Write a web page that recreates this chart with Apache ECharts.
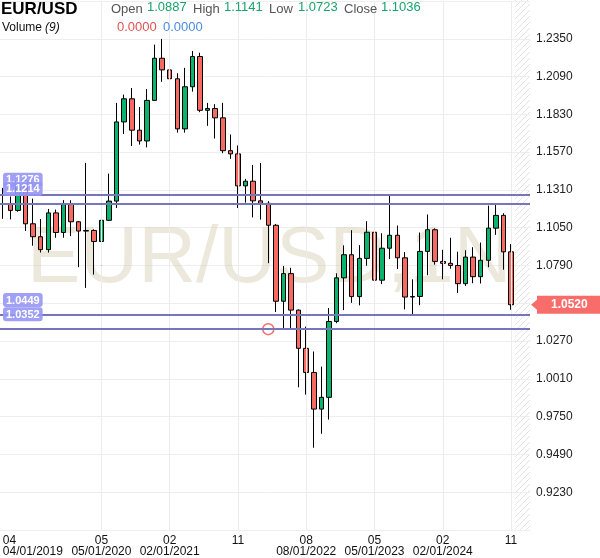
<!DOCTYPE html>
<html><head><meta charset="utf-8">
<script src="https://cdn.jsdelivr.net/npm/echarts@6/dist/echarts.min.js"></script>
<style>html,body{margin:0;padding:0;background:#fff}#c{width:600px;height:558px}</style>
</head><body><div id="c"></div>
<script>
// ---- data ----
const months = ['2019-04','2019-05','2019-06','2019-07','2019-08','2019-09','2019-10','2019-11','2019-12',
'2020-01','2020-02','2020-03','2020-04','2020-05','2020-06','2020-07','2020-08','2020-09','2020-10','2020-11','2020-12',
'2021-01','2021-02','2021-03','2021-04','2021-05','2021-06','2021-07','2021-08','2021-09','2021-10','2021-11','2021-12',
'2022-01','2022-02','2022-03','2022-04','2022-05','2022-06','2022-07','2022-08','2022-09','2022-10','2022-11','2022-12',
'2023-01','2023-02','2023-03','2023-04','2023-05','2023-06','2023-07','2023-08','2023-09','2023-10','2023-11','2023-12',
'2024-01','2024-02','2024-03','2024-04','2024-05','2024-06','2024-07','2024-08','2024-09','2024-10','2024-11'];
const opens = [1.1216,1.1214,1.1169,1.1370,1.1077,1.0988,1.0899,1.1152,1.1017,
1.1213,1.1091,1.1027,1.1031,1.0955,1.1101,1.1233,1.1778,1.1937,1.1721,1.1647,1.1926,
1.2216,1.2136,1.2075,1.1730,1.2020,1.2228,1.1858,1.1870,1.1806,1.1580,1.1558,1.1338,
1.1370,1.1235,1.1218,1.1067,1.0544,1.0734,1.0483,1.0220,1.0054,0.9802,0.9883,1.0405,
1.0705,1.0864,1.0576,1.0839,1.1019,1.0689,1.0909,1.0998,1.0843,1.0573,1.0577,1.0887,
1.1036,1.0818,1.0805,1.0790,1.0665,1.0848,1.0713,1.0826,1.1047,1.1135,1.0884];
const highs = [1.1324,1.1265,1.1412,1.1380,1.1250,1.1110,1.1179,1.1175,1.1240,
1.1239,1.1096,1.1496,1.1039,1.1147,1.1422,1.1909,1.1966,1.2011,1.1881,1.2004,1.2310,
1.2349,1.2243,1.2113,1.2150,1.2266,1.2254,1.1909,1.1900,1.1909,1.1692,1.1616,1.1386,
1.1482,1.1495,1.1233,1.1076,1.0787,1.0774,1.0487,1.0369,1.0198,1.0094,1.0497,1.0736,
1.0929,1.1033,1.0930,1.1095,1.1092,1.1012,1.1276,1.1065,1.0882,1.0695,1.1017,1.1141,
1.1046,1.0898,1.0981,1.0885,1.0895,1.0916,1.0948,1.1202,1.1214,1.1150,1.0937];
const lows = [1.1111,1.1107,1.1160,1.1028,1.0926,1.0879,1.0879,1.0981,1.0981,
1.0992,1.0778,1.0636,1.0727,1.0767,1.1096,1.1186,1.1695,1.1612,1.1622,1.1603,1.1924,
1.2054,1.1952,1.1704,1.1704,1.1986,1.1845,1.1751,1.1664,1.1563,1.1524,1.1186,1.1222,
1.1121,1.1106,1.0806,1.0470,1.0349,1.0359,0.9952,0.9901,0.9536,0.9632,0.9730,1.0393,
1.0483,1.0533,1.0516,1.0788,1.0635,1.0662,1.0834,1.0766,1.0488,1.0449,1.0517,1.0723,
1.0796,1.0695,1.0768,1.0601,1.0650,1.0668,1.0666,1.0778,1.1001,1.0761,1.0485];
const closes = [1.1214,1.1169,1.1370,1.1077,1.0988,1.0899,1.1152,1.1017,1.1213,
1.1091,1.1027,1.1031,1.0955,1.1101,1.1233,1.1778,1.1937,1.1721,1.1647,1.1926,1.2216,
1.2136,1.2075,1.1730,1.2020,1.2228,1.1858,1.1870,1.1806,1.1580,1.1558,1.1338,1.1370,
1.1235,1.1218,1.1067,1.0544,1.0734,1.0483,1.0220,1.0054,0.9802,0.9883,1.0405,1.0705,
1.0864,1.0576,1.0839,1.1019,1.0689,1.0909,1.0998,1.0843,1.0573,1.0577,1.0887,1.1036,
1.0818,1.0805,1.0790,1.0665,1.0848,1.0713,1.0826,1.1047,1.1135,1.0884,1.0520];
const padCats = ['pad1','pad2'];
const levels = [1.1276, 1.1214, 1.0449, 1.0352];
const lastPrice = 1.0520;
const alertPoint = ['2022-03', 1.0352];
const tickMonths = ['2019-04','2020-05','2021-02','2021-11','2022-08','2023-05','2024-02','2024-11'];
const tickDates  = ['04/01/2019','05/01/2020','02/01/2021','','08/01/2022','05/01/2023','02/01/2024',''];
const yTickStart = 0.8970, yTickStep = 0.0260, yTickCount = 14;
const header = {symbol:'EUR/USD', open:'1.0887', high:'1.1141', low:'1.0723', close:'1.1036', vol1:'0.0000', vol2:'0.0000'};

// ---- chart ----
const FF = 'Arial, "Liberation Sans", sans-serif';
const chart = echarts.init(document.getElementById('c'), null, {renderer:'canvas'});
const cats = months.concat(padCats);
const candles = months.map((m,i)=>[opens[i], closes[i], lows[i], highs[i]]);

const levelLines = levels.map(v => ({
  yAxis: v,
  lineStyle: {color:'#7676ba', width:2, type:'solid', opacity:1},
  label: {show:true, position:'insideStartTop', formatter: v.toFixed(4), color:'#fff',
    backgroundColor:'rgba(150,150,245,0.9)', padding:[2,3,1,3], borderRadius:3,
    fontSize:11, fontWeight:'bold', fontFamily:FF, distance:[4,8]}
}));
const priceLine = {
  yAxis: lastPrice,
  lineStyle: {color:'rgba(0,0,0,0)', width:0},
  label: {show:true, position:'end', formatter: lastPrice.toFixed(4), color:'#fff',
    backgroundColor:'#f86d6a', padding:[3,14,3,14], fontSize:12, fontWeight:'bold', fontFamily:FF, distance:7}
};

const option = {
  animation:false,
  backgroundColor:'#fff',
  grid:{left:-1, right:70, top:1, bottom:28, containLabel:false, outerBoundsMode:'none'},
  xAxis:{type:'category', data:cats, boundaryGap:true,
    axisLine:{show:false}, axisTick:{show:false}, splitLine:{show:false},
    axisLabel:{interval:(i,v)=>tickMonths.indexOf(v)>=0, alignMinLabel:'left', hideOverlap:false,
      formatter:(v)=>{const k=tickMonths.indexOf(v); if(k<0) return ''; const mm=v.slice(5); return tickDates[k]? mm+'\n'+tickDates[k] : mm;},
      color:'#111', fontSize:12, lineHeight:11, margin:5, fontFamily:FF}},
  yAxis:[
    {type:'value', min:yTickStart, max:yTickStart+yTickStep*yTickCount, show:false, scale:true},
    {type:'value', min:0, max:yTickCount, interval:1, position:'right',
      axisLine:{show:false}, axisTick:{show:false},
      splitLine:{show:true, lineStyle:{color:'#eeeeee', width:1}},
      axisLabel:{formatter:v=>(yTickStart+v*yTickStep).toFixed(4), showMinLabel:false, showMaxLabel:false,
        color:'#222', fontSize:12, margin:6, fontFamily:FF}}
  ],
  series:[
    {type:'line', data:[], yAxisIndex:0, z:1, silent:true,
      markLine:{symbol:['none','none'], silent:true, animation:false, label:{show:false},
        lineStyle:{color:'#ececec', width:1, type:'solid'},
        data: tickMonths.slice(1).map(m=>({xAxis:m}))}},
    {type:'candlestick', data:candles, yAxisIndex:0, barWidth:5, z:3,
      itemStyle:{color:'#0cb36c', color0:'#f76a61', borderColor:'#000', borderColor0:'#000', borderWidth:1},
      markLine:{symbol:['none','none'], precision:4, silent:true, animation:false, data: levelLines.concat([priceLine])}},
    {type:'scatter', data:[alertPoint], yAxisIndex:0, symbol:'circle', symbolSize:11, z:4,
      itemStyle:{color:'rgba(255,255,255,0)', borderColor:'#f04848', borderWidth:1.5}}
  ],
  graphic:[
    {type:'text', id:'wm', left:27, top:220, z:1, silent:true, style:{text:'EUR/USD,1N', font:'80px '+FF, fill:'rgba(210,200,170,0.42)'}},
    {type:'text', left:1, top:1, z:100, style:{text:header.symbol, font:'bold 17px '+FF, fill:'#000'}},
    {type:'text', left:2, top:22, z:100, style:{text:'Volume ', font:'12px '+FF, fill:'#111'}},
    {type:'text', left:45, top:22, z:100, style:{text:'(9)', font:'italic 12px '+FF, fill:'#111'}},
    {type:'text', left:111, top:3, z:100, style:{text:'Open', font:'13px '+FF, fill:'#555'}},
    {type:'text', left:147, top:1, z:100, style:{text:header.open, font:'13px '+FF, fill:'#19a46c'}},
    {type:'text', left:193, top:3, z:100, style:{text:'High', font:'13px '+FF, fill:'#555'}},
    {type:'text', left:224, top:1, z:100, style:{text:header.high, font:'13px '+FF, fill:'#19a46c'}},
    {type:'text', left:269, top:3, z:100, style:{text:'Low', font:'13px '+FF, fill:'#555'}},
    {type:'text', left:298, top:1, z:100, style:{text:header.low, font:'13px '+FF, fill:'#19a46c'}},
    {type:'text', left:344, top:3, z:100, style:{text:'Close', font:'13px '+FF, fill:'#555'}},
    {type:'text', left:381, top:1, z:100, style:{text:header.close, font:'13px '+FF, fill:'#19a46c'}},
    {type:'text', left:117, top:21, z:100, style:{text:header.vol1, font:'13px '+FF, fill:'#e05252'}},
    {type:'text', left:163, top:21, z:100, style:{text:header.vol2, font:'13px '+FF, fill:'#4a8be0'}}
  ]
};
chart.setOption(option);

// hatched "future" zone right of last candle, positioned from the axis scale
const pc = document.createElement('canvas'); pc.width = 6; pc.height = 6;
const g = pc.getContext('2d'); g.strokeStyle = '#e2e2e2'; g.lineWidth = 1;
g.beginPath(); g.moveTo(0,6); g.lineTo(6,0); g.moveTo(-1,1); g.lineTo(1,-1); g.moveTo(5,7); g.lineTo(7,5); g.stroke();
const xLast = chart.convertToPixel({xAxisIndex:0}, months[months.length-1]);
const xPad = chart.convertToPixel({xAxisIndex:0}, padCats[0]);
const band = xPad - xLast;
const xStart = xLast + band/2;
const xEnd = chart.convertToPixel({xAxisIndex:0}, padCats[1]) + band/2;
const yBot = chart.convertToPixel({yAxisIndex:0}, yTickStart);
const yP = chart.convertToPixel({yAxisIndex:0}, lastPrice);
chart.setOption({graphic:[
  {type:'rect', id:'hatch', z:0, silent:true, shape:{x:xStart, y:0, width:xEnd-xStart, height:yBot}, style:{fill:{image:pc, repeat:'repeat'}}},
  {type:'polygon', id:'parrow', z:50, silent:true, shape:{points:[[xEnd+1,yP],[xEnd+7,yP-5],[xEnd+7,yP+5]]}, style:{fill:'#f86d6a'}}
]});
</script></body></html>
